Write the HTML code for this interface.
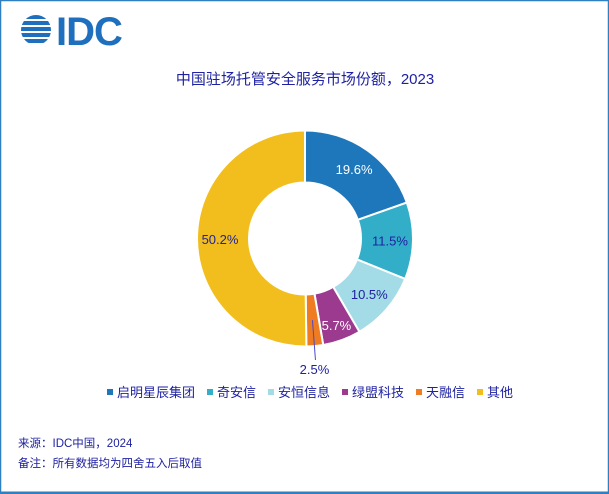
<!DOCTYPE html>
<html><head><meta charset="utf-8"><style>
body{margin:0;background:#fff;}
#wrap{position:relative;width:609px;height:494px;overflow:hidden;font-family:"Liberation Sans","Noto Sans CJK SC",sans-serif;}
</style></head><body>
<div id="wrap">
<svg id="svg" width="609" height="494" viewBox="0 0 609 494" xmlns="http://www.w3.org/2000/svg">
  <rect x="0.5" y="0.5" width="608" height="493" fill="#fff" stroke="#2f7fc1" stroke-width="1.5"/>
  <line x1="0" y1="492.5" x2="609" y2="492.5" stroke="#2f7fc1" stroke-width="2"/>
  <g>
    <clipPath id="gc"><circle cx="36" cy="30" r="15"/></clipPath>
    <g clip-path="url(#gc)" fill="#1f6fbf">
      <rect x="20" y="15" width="32" height="4"/><rect x="20" y="21" width="32" height="4"/>
      <rect x="20" y="27" width="32" height="4"/><rect x="20" y="33" width="32" height="4"/>
      <rect x="20" y="39" width="32" height="4"/>
    </g>
    <text x="56" y="45" font-size="40" font-weight="bold" fill="#1f6fbf" font-family="Liberation Sans, sans-serif" letter-spacing="-1">IDC</text>
  </g>
  <text x="305" y="84" text-anchor="middle" font-size="15" fill="#1e22a0">中国驻场托管安全服务市场份额，2023</text>
  <g id="slices"></g>
  <g id="labels"></g>
  <g id="legend"></g>
  <text x="18" y="447" font-size="11.5" fill="#1e22a0">来源：IDC中国，2024</text>
  <text x="18" y="467" font-size="11.5" fill="#1e22a0">备注：所有数据均为四舍五入后取值</text>
</svg>
</div>
<script>
const categories=["启明星辰集团","奇安信","安恒信息","绿盟科技","天融信","其他"];
const values=[19.6,11.5,10.5,5.7,2.5,50.2];
const labelsText=["19.6%","11.5%","10.5%","5.7%","2.5%","50.2%"];
const colors=["#1f77bb","#33aec9","#a3dbe6","#9b3a8e","#f07c22","#f2be1e"];
const labelColors=["#fff","#1e22a0","#1e22a0","#fff","#1e22a0","#1e22a0"];
const NS="http://www.w3.org/2000/svg";
const cx=305,cy=238.5,R=108,r=56;
const total=values.reduce((a,b)=>a+b,0);
function pt(a,rad){return [cx+rad*Math.sin(a),cy-rad*Math.cos(a)];}
const gS=document.getElementById('slices'),gL=document.getElementById('labels'),gG=document.getElementById('legend');
let acc=0;
values.forEach((v,i)=>{
  const a0=acc/total*2*Math.PI,a1=(acc+v)/total*2*Math.PI;acc+=v;
  const lg=(a1-a0)>Math.PI?1:0;
  const [x0,y0]=pt(a0,R),[x1,y1]=pt(a1,R),[x2,y2]=pt(a1,r),[x3,y3]=pt(a0,r);
  const p=document.createElementNS(NS,'path');
  p.setAttribute('d',`M${x0},${y0}A${R},${R} 0 ${lg} 1 ${x1},${y1}L${x2},${y2}A${r},${r} 0 ${lg} 0 ${x3},${y3}Z`);
  p.setAttribute('fill',colors[i]);p.setAttribute('stroke','#fff');p.setAttribute('stroke-width','2');
  
  
  gS.appendChild(p);
  const am=(a0+a1)/2;
  let lx,ly;
  if(i===4){
    const [px,py]=pt(am,(R+r)/2);
    const [qx,qy]=pt(am,R+18);
    const ln=document.createElementNS(NS,'line');
    ln.setAttribute('x1',px);ln.setAttribute('y1',py);ln.setAttribute('x2',qx-1);ln.setAttribute('y2',qy-4);
    ln.setAttribute('stroke','#4a4ad0');ln.setAttribute('stroke-width','1');
    
    
    gL.appendChild(ln);
    [lx,ly]=[qx-2,qy+10];
  } else {
    const rr=(i===3)?(R+r)/2+10:(R+r)/2+3;
    [lx,ly]=pt(am,rr);ly+=5;
  }
  const t=document.createElementNS(NS,'text');
  t.setAttribute('x',lx);t.setAttribute('y',ly);t.setAttribute('text-anchor','middle');
  t.setAttribute('font-size','13');t.setAttribute('fill',labelColors[i]);
  t.textContent=labelsText[i];
  
  
  gL.appendChild(t);
});
let lx=107;
categories.forEach((c,i)=>{
  const g=document.createElementNS(NS,'g');
  
  
  const s=document.createElementNS(NS,'rect');
  s.setAttribute('x',lx);s.setAttribute('y',389);s.setAttribute('width',6);s.setAttribute('height',6);s.setAttribute('fill',colors[i]);
  const t=document.createElementNS(NS,'text');
  t.setAttribute('x',lx+10);t.setAttribute('y',397);t.setAttribute('font-size','13');t.setAttribute('fill','#1e22a0');
  t.textContent=c;
  g.appendChild(s);g.appendChild(t);gG.appendChild(g);
  lx+=10+c.length*13+12;
});
</script>
</body></html>
